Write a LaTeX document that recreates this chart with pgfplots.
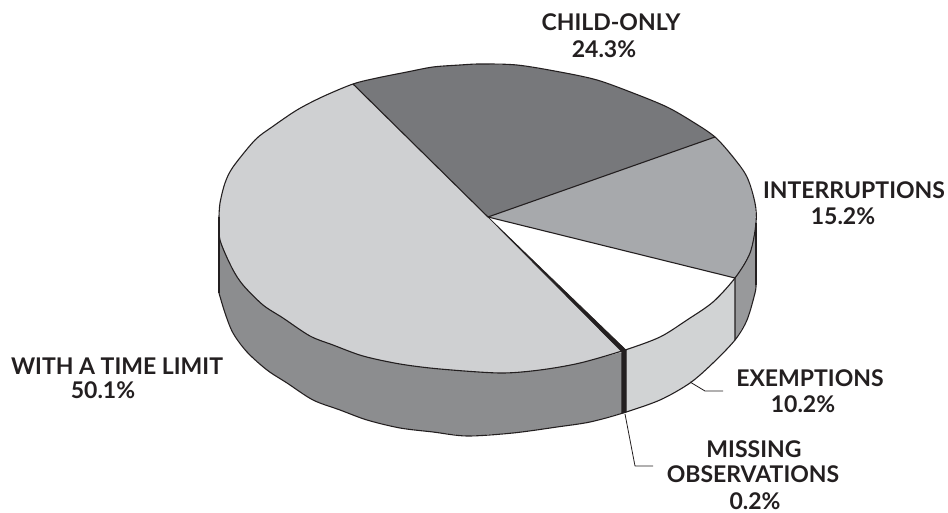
\documentclass[border=0pt]{standalone}
\usepackage{fontspec}
\setmainfont{Lato}
\usepackage{pgfplots}
\pgfplotsset{compat=1.18}
\definecolor{ink}{HTML}{231F20}
\definecolor{limittop}{HTML}{CFD0D2}
\definecolor{childtop}{HTML}{77787B}
\definecolor{intertop}{HTML}{A7A9AC}
\definecolor{limitside}{HTML}{8C8D8F}
\definecolor{exemptside}{HTML}{D1D3D4}
\definecolor{interside}{HTML}{98999B}
\newcommand{\lab}[2]{\node[font=\fontsize{23}{26}\selectfont\bfseries,text=ink,inner sep=0pt,anchor=center] at (axis cs:#1) {#2};}
\begin{document}
\begin{tikzpicture}
\path[use as bounding box] (0,0) rectangle (948pt,513pt);
\begin{axis}[
    anchor=south west, at={(0,0)},
    width=948pt, height=513pt, scale only axis,
    xmin=0, xmax=948, ymin=0, ymax=513, y dir=reverse,
    hide axis, clip=false,
    every axis plot/.append style={mark=none, line join=round, line width=1.1pt}
]
% side walls
\addplot[fill=limitside, draw=none] coordinates {
    (219,230) (220,240) (232,268) (243,285) (263,305) (283,318) (310,336) (333,345)
    (363,356) (400,364) (440,369) (500,373) (540,370) (580,363) (622,352)
    (622,413) (590,422) (557,427) (513,433) (467,436) (433,432) (400,428)
    (367,420) (340,410) (313,400) (287,383) (267,370) (247,352) (233,333) (225,313) (219,293)
} -- cycle;
\addplot[fill=exemptside, draw=none] coordinates {
    (625,350) (660,337) (687,320) (713,302) (735,278)
    (735,340) (713,363) (690,383) (660,400) (625,413)
} -- cycle;
\addplot[fill=interside, draw=none] coordinates {
    (735,278) (750,253) (756,223) (756,285) (755,293) (747,320) (735,340)
} -- cycle;
\addplot[fill=ink, draw=ink] coordinates {(622,352) (626,350) (626,412) (622,413)} -- cycle;
% top slices
\addplot[fill=limittop, draw=none] coordinates {
    (488,217) (353,84) (322,97) (297,110) (272,127) (255,140) (233,167) (225,183) (220,203) (219,217)
    (219,230) (220,240) (232,268) (243,285) (263,305) (283,318) (310,336) (333,345)
    (363,356) (400,364) (440,369) (500,373) (540,370) (580,363) (622,352)
} -- cycle;
\addplot[fill=childtop, draw=none] coordinates {
    (488,217) (715,137) (693,122) (667,107) (633,93) (597,80) (560,72) (517,65) (480,64)
    (460,65) (433,67) (407,72) (377,78) (353,84)
} -- cycle;
\addplot[fill=intertop, draw=none] coordinates {
    (488,217) (735,278) (750,253) (756,223) (755,203) (747,177) (733,157) (715,137)
} -- cycle;
\addplot[fill=white, draw=none] coordinates {
    (488,217) (625,350) (660,337) (687,320) (713,302) (735,278)
} -- cycle;
\addplot[fill=ink, draw=ink, line width=0.6pt] coordinates {(488,217) (622,352) (626,350)} -- cycle;
% slice edges
\addplot[draw=ink] coordinates {(353,84) (488,217) (715,137)};
\addplot[draw=ink] coordinates {(488,217) (735,278) (735,340)};
\addplot[draw=ink] coordinates {(219,217) (219,293)};
\addplot[draw=ink] coordinates {(756,223) (756,285)};
% rims
\addplot[draw=ink, smooth, tension=0.5] coordinates {
    (219,217) (220,203) (225,183) (233,167) (255,140) (272,127) (297,110) (322,97) (353,84)
    (377,78) (407,72) (433,67) (460,65) (480,64) (517,65) (560,72) (597,80) (633,93) (667,107)
    (693,122) (715,137) (733,157) (747,177) (755,203) (756,223) (750,253) (735,278) (713,302)
    (687,320) (660,337) (625,350) (580,363) (540,370) (500,373) (440,369) (400,364) (363,356)
    (333,345) (310,336) (283,318) (263,305) (243,285) (232,268) (220,240) (219,217)
};
\addplot[draw=ink, smooth, tension=0.5] coordinates {
    (219,293) (225,313) (233,333) (247,352) (267,370) (287,383) (313,400) (340,410) (367,420)
    (400,428) (433,432) (467,436) (513,433) (557,427) (590,422) (623,413) (660,400) (690,383)
    (713,363) (735,340) (747,320) (755,293) (756,285)
};
% leader lines
\addplot[draw=ink, line width=0.8pt] coordinates {(690,382) (705,391) (723,391)};
\addplot[draw=ink, line width=0.8pt] coordinates {(625,414) (635,466) (653,466)};
\lab{611,22}{CHILD-ONLY}
\lab{604,49}{24.3\%}
\lab{854,190}{INTERRUPTIONS}
\lab{843,216}{15.2\%}
\lab{117,366}{WITH A TIME LIMIT}
\lab{103,390}{50.1\%}
\lab{810,378}{EXEMPTIONS}
\lab{803,404}{10.2\%}
\lab{754,449}{MISSING}
\lab{753,474}{OBSERVATIONS}
\lab{755,501}{0.2\%}
\end{axis}
\end{tikzpicture}
\end{document}
